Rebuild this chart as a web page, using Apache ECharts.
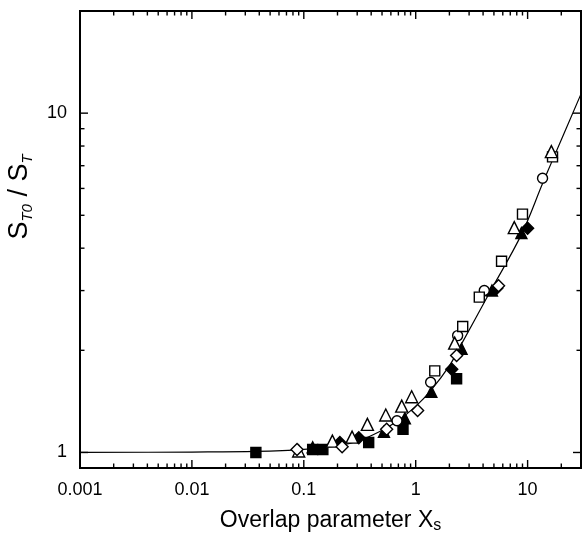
<!DOCTYPE html>
<html>
<head>
<meta charset="utf-8">
<script src="https://cdn.jsdelivr.net/npm/echarts@6/dist/echarts.min.js"></script>
<style>
html,body{margin:0;padding:0;background:#fff;}
#chart{width:582px;height:533px;}
</style>
</head>
<body>
<div id="chart"></div>
<script>
// ---- data ----
const xMajorTicks = [0.001, 0.01, 0.1, 1, 10];
const xTickLabels = ['0.001', '0.01', '0.1', '1', '10'];
const xMinorTicks = [0.002,0.003,0.004,0.005,0.006,0.007,0.008,0.009,
                     0.02,0.03,0.04,0.05,0.06,0.07,0.08,0.09,
                     0.2,0.3,0.4,0.5,0.6,0.7,0.8,0.9,
                     2,3,4,5,6,7,8,9,20];
const yMajorTicks = [1, 10];
const yTickLabels = ['1', '10'];
const yMinorTicks = [2,3,4,5,6,7,8,9,20];

const filledSquares   = [[0.0373,1.0],[0.12,1.02],[0.148,1.02],[0.38,1.07],[0.77,1.17],[2.32,1.65]];
const filledDiamonds  = [[0.21,1.07],[0.31,1.105],[2.1,1.76],[5.3,3.05],[10,4.58]];
const filledTriangles = [[0.12,1.035],[0.52,1.15],[0.8,1.26],[1.38,1.51],[2.57,2.02],[4.8,3.0],[8.8,4.43]];
const openCircles     = [[0.68,1.24],[1.36,1.61],[2.37,2.21],[4.1,3.0],[13.6,6.43]];
const openSquares     = [[1.48,1.74],[2.63,2.35],[3.7,2.87],[5.85,3.66],[9.0,5.04],[16.7,7.43]];
const openTriangles   = [[0.09,1.01],[0.18,1.08],[0.27,1.11],[0.37,1.21],[0.54,1.29],[0.75,1.37],[0.92,1.46],[2.23,2.1],[7.6,4.6],[16.3,7.7]];
const openDiamonds    = [[0.087,1.02],[0.22,1.04],[0.55,1.17],[1.04,1.33],[2.32,1.93],[5.5,3.1]];

const curveX = [0.001,0.01,0.0373,0.1,0.21,0.316,0.477,0.677,1.0,1.39,2.01,2.47,4.58,8.84,13.6,16.7,29.7];
const curveY = [1.0,1.003,1.007,1.021,1.049,1.085,1.153,1.234,1.367,1.534,1.806,2.04,2.96,4.40,6.2,7.27,11.3];

const X_MIN = 0.001, X_MAX = 30, Y_MIN = 0.9, Y_MAX = 20;

// ---- chart ----
const chart = echarts.init(document.getElementById('chart'), null, {renderer:'canvas'});
const FONT = 'Liberation Sans, Arial, Helvetica, sans-serif';

function labelFor(majors, labels) {
  return function (v) {
    for (let i = 0; i < majors.length; i++) {
      if (Math.abs(v - majors[i]) / majors[i] < 1e-6) return labels[i];
    }
    return '';
  };
}

function tickItem(api, isX) {
  const v = isX ? api.value(0) : api.value(1);
  const major = api.value(2) === 1;
  const len = major ? 8 : 4.5;
  const st = {stroke:'#000', lineWidth: 1.4};
  if (isX) {
    const pb = api.coord([v, Y_MIN]);
    const pt = api.coord([v, Y_MAX]);
    return {type:'group', children:[
      {type:'line', shape:{x1:pb[0], y1:pb[1], x2:pb[0], y2:pb[1]-len}, style:st},
      {type:'line', shape:{x1:pt[0], y1:pt[1], x2:pt[0], y2:pt[1]+len}, style:st}
    ]};
  } else {
    const pl = api.coord([X_MIN, v]);
    const pr = api.coord([X_MAX, v]);
    return {type:'group', children:[
      {type:'line', shape:{x1:pl[0], y1:pl[1], x2:pl[0]+len, y2:pl[1]}, style:st},
      {type:'line', shape:{x1:pr[0], y1:pr[1], x2:pr[0]-len, y2:pr[1]}, style:st}
    ]};
  }
}

const xTickData = xMajorTicks.map(v => [v, Y_MIN, 1]).concat(xMinorTicks.map(v => [v, Y_MIN, 0]));
const yTickData = yMajorTicks.map(v => [X_MIN, v, 1]).concat(yMinorTicks.map(v => [X_MIN, v, 0]));

function scatter(data, symbol, size, filled) {
  return {
    type:'scatter', data: data, symbol: symbol, symbolSize: size,
    itemStyle: {color: filled ? '#000' : '#fff', borderColor:'#000', borderWidth: 1.4, opacity: 1},
    z: 5, silent: true
  };
}

const option = {
  backgroundColor:'#fff',
  animation:false,
  grid:{left:80, right:1, top:11, bottom:65, show:true, borderColor:'#000', borderWidth:2,
        backgroundColor:'transparent', containLabel:false, outerBoundsMode:'none'},
  xAxis:{
    type:'log', logBase:10, min:X_MIN, max:X_MAX,
    axisLine:{show:false}, axisTick:{show:false}, splitLine:{show:false}, minorTick:{show:false},
    axisLabel:{formatter: labelFor(xMajorTicks, xTickLabels), color:'#000', fontSize:18, fontFamily:FONT, margin:13},
    name:'{m|Overlap parameter X}{s|s}',
    nameLocation:'middle', nameGap:40,
    nameTextStyle:{color:'#000', fontFamily:FONT,
      rich:{m:{fontSize:23, fontFamily:FONT, color:'#000', lineHeight:26},
            s:{fontSize:16, fontFamily:FONT, color:'#000', lineHeight:6, verticalAlign:'bottom'}}}
  },
  yAxis:{
    type:'log', logBase:10, min:Y_MIN, max:Y_MAX,
    axisLine:{show:false}, axisTick:{show:false}, splitLine:{show:false}, minorTick:{show:false},
    axisLabel:{formatter: labelFor(yMajorTicks, yTickLabels), color:'#000', fontSize:18, fontFamily:FONT, margin:13}
  },
  graphic:[{
    type:'text', x:20, y:197, rotation:Math.PI/2,
    style:{
      text:'{m|S}{s|T0}{m| / S}{s|T}',
      align:'center', verticalAlign:'middle',
      rich:{m:{fontSize:27, fontFamily:FONT, fill:'#000', lineHeight:30},
            s:{fontSize:15, fontFamily:FONT, fontStyle:'italic', fill:'#000', lineHeight:16, verticalAlign:'bottom'}}
    }
  }],
  series:[
    {type:'line', data: curveX.map((x,i)=>[x, curveY[i]]), smooth:0.35, showSymbol:false, symbol:'none',
     lineStyle:{color:'#000', width:1.2}, z:3, silent:true},
    {type:'custom', data:xTickData, renderItem:(p,api)=>tickItem(api,true), clip:false, z:2, silent:true},
    {type:'custom', data:yTickData, renderItem:(p,api)=>tickItem(api,false), clip:false, z:2, silent:true},
    scatter(filledSquares, 'rect', 10, true),
    scatter(filledDiamonds, 'diamond', 12, true),
    scatter(filledTriangles, 'triangle', 11, true),
    scatter(openCircles, 'circle', 10, false),
    scatter(openSquares, 'rect', 10, false),
    scatter(openTriangles, 'triangle', 12, false),
    scatter(openDiamonds, 'diamond', 12, false)
  ]
};
chart.setOption(option);
</script>
</body>
</html>
